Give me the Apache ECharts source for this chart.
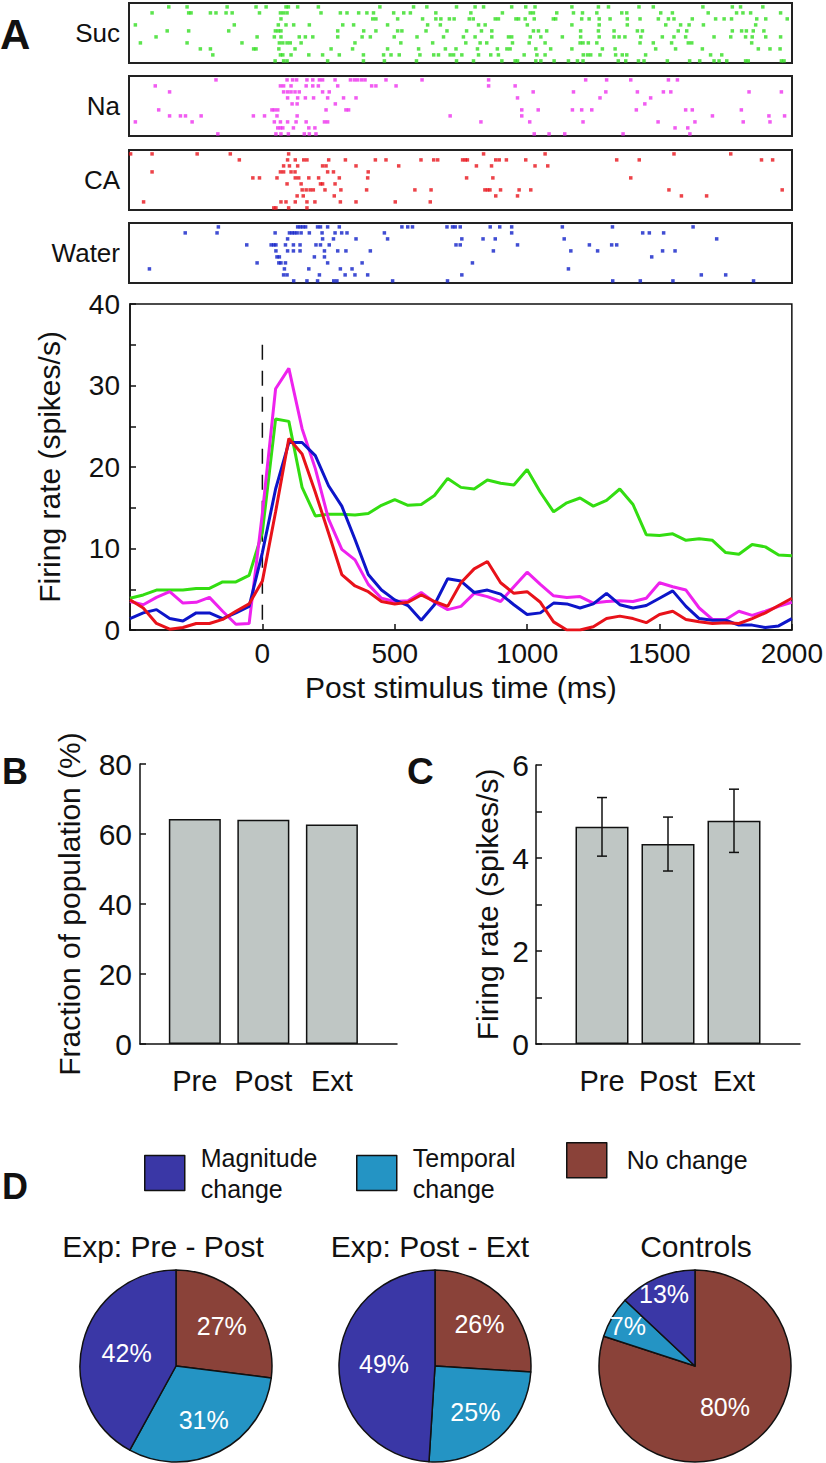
<!DOCTYPE html>
<html>
<head>
<meta charset="utf-8">
<script src="https://cdn.jsdelivr.net/npm/echarts@6/dist/echarts.min.js"></script>
<style>
  html, body { margin: 0; padding: 0; background: #fff; }
  #chart { width: 826px; height: 1463px; }
</style>
</head>
<body>
<div id="chart"></div>
<script>
// ---- panel A: spike rasters (spike times in ms, one list per trial) ----
const rasterNames = ['Suc', 'Na', 'CA', 'Water'];
const rasterColors = ['#33dd22', '#ee33ee', '#e8141c', '#1020c8'];

const sucSpikes = [
  [-350,-281,-130,-21,17,92,101,136,214,446,573,623,735,805,837,943,996,1031,1170,1270,1308,1423,1477,1664,1775,1806,1890],
  [-413,-275,-266,-193,-172,-134,-111,-8,71,83,96,224,297,322,366,397,422,498,536,561,657,789,908,1013,1025,1113,1176,1210,1264,1358,1377,1505,1549,1684,1791,1815,1844,1957],
  [73,419,431,513,607,657,676,708,726,783,798,881,893,959,969,994,1028,1100,1109,1207,1235,1273,1314,1379,1427,1496,1534,1555,1624,1712,1744,1772,1867,1901,1982],
  [-476,-103,63,92,121,180,306,347,475,626,674,818,843,1002,1170,1273,1379,1524,1580,1612,1666,1863],
  [-356,-275,-124,52,63,73,287,385,431,513,529,620,699,773,829,868,1025,1044,1075,1203,1270,1329,1417,1436,1571,1603,1775,1810,1828,1854,1894],
  [-398,-17,48,73,142,165,193,287,379,410,500,586,686,761,805,868,931,943,1013,1053,1134,1203,1273,1329,1348,1370,1430,1511,1555,1599,1706,1769,1825,1850,1901,1957],
  [-457,-281,-74,67,80,96,108,149,352,525,645,770,824,849,946,1009,1069,1201,1212,1232,1264,1427,1477,1546,1609,1622,1848],
  [-231,-193,-30,-21,65,126,262,343,475,592,693,733,814,889,925,937,1034,1090,1170,1285,1333,1486,1561,1662,1873,1917,1955],
  [-184,71,80,111,178,230,293,384,460,488,519,597,649,667,711,724,755,818,864,893,990,1038,1069,1213,1229,1241,1276,1335,1360,1377,1448,1693,1735],
  [51,83,96,249,384,463,584,735,799,906,956,965,1034,1053,1103,1157,1191,1212,1345,1373,1421,1442,1530,1614,1652,1706,1725,1754,1825,1835,1960,1970]
];
const naSpikes = [
  [-172,96,117,132,171,193,218,230,277,335,350,362,377,390,469,605,856,1222,1301,1392,1534,1568],
  [-401,71,83,111,168,193,214,287,415,431,507,856,956],
  [-347,83,98,111,126,142,230,255,1024,1176,1298,1417,1515,1543,1838,1960],
  [98,136,165,196,249,309,356,965,1276,1467],
  [115,134,278,1445],
  [-388,39,48,61,243,318,328,981,1043,1172,1207,1245,1413,1599,1624,1809],
  [-347,-306,-287,-228,-31,11,58,134,711,981,1700,1913,1972],
  [-476,-262,48,71,98,130,168,237,249,827,1011,1212,1495,1634,1816,1917],
  [61,71,80,120,178,201,1559,1607],
  [-165,54,73,101,161,180,205,1028,1084,1143,1363,1615]
];
const caSpikes = [
  [-494,-413,-243,-118,102,837,1069,1555,1769],
  [-84,98,127,159,171,253,316,429,469,601,649,664,758,768,776,883,896,923,996,1339,1424,1885,1927],
  [83,105,136,230,243,356,517,810,867,1031,1079],
  [-413,71,83,111,126,249,271,402],
  [-33,-8,58,127,140,178,215,293,400,773,872,1392],
  [96,149,222,230,277],
  [153,168,183,195,239,299,396,578,639,842,852,861,901,971,1015,1536,1963],
  [134,157,274,883,965,1583,1678],
  [-445,73,92,127,171,201,297,356,504,636],
  [46,54,102,171]
];
const waterSpikes = [
  [-163,136,146,156,166,211,222,249,293,529,551,569,699,720,730,749,862,898,943,1134,1323,1627],
  [-288,-168,51,105,115,124,134,149,180,228,277,302,322,463,943,1437,1462,1516],
  [98,230,271,356,475,755,835,881,1141,1716],
  [-56,36,46,54,90,120,145,205,222,255,733,749,965,1236,1320,1339],
  [54,98,120,145,237,287,318,410,874,1166,1267,1512,1559],
  [58,67,199,237,1471],
  [-17,65,73,90,249,379,795],
  [-423,86,178,297,341,1157],
  [83,96,218,315,352,400,755,1658,1750],
  [121,171,211,272,284,494,701,1324,1428,1551,1855]
];
const rasterSpikes = [sucSpikes, naSpikes, caSpikes, waterSpikes];

// ---- panel A: PSTH ----
const timeBins = [-500,-450,-400,-350,-300,-250,-200,-150,-100,-50,0,50,100,150,200,250,300,350,400,450,500,550,600,650,700,
  750,800,850,900,950,1000,1050,1100,1150,1200,1250,1300,1350,1400,1450,1500,1550,1600,1650,1700,1750,1800,1850,1900,1950,2000];
const sucRate = [3.9,4.3,4.9,4.9,4.9,5.1,5.1,5.9,5.9,6.7,12,25.9,25.6,17.5,14.0,14.2,14.2,14.1,14.3,15.3,16.0,15.3,15.4,16.5,18.6,
  17.5,17.3,18.4,18.0,17.8,19.7,16.9,14.5,15.6,16.2,15.2,15.9,17.3,15.4,11.7,11.6,11.8,11.0,11.2,11.0,9.5,9.3,10.5,10.2,9.2,9.1];
const naRate = [3.5,3.1,4.0,4.7,3.3,3.4,4.0,2.3,0.7,0.8,14.3,29.6,32.1,24.7,19.8,13.6,9.9,8.6,5.6,3.9,3.5,3.6,4.6,3.4,2.5,
  2.9,4.5,4.1,3.5,5.3,7.1,5.6,4.2,4.0,4.1,3.3,3.5,3.6,3.5,3.9,5.8,5.3,4.9,2.7,1.3,1.3,2.3,1.8,2.3,2.9,3.4];
const waterRate = [1.4,2.1,2.5,1.4,1.1,2.1,2.1,1.4,2.1,2.9,9.5,17.3,23.0,23.0,21.4,17.7,15.2,11.1,6.8,4.9,3.7,3.0,1.2,3.1,6.3,
  6.0,4.6,4.9,4.4,3.1,1.9,2.1,3.3,3.2,2.7,3.2,4.5,3.1,2.7,3.0,3.9,4.8,2.9,1.4,1.2,1.2,0.6,0.6,0.3,0.5,1.4];
const caRate = [3.7,2.7,0.8,0.1,0.3,0.8,0.8,1.3,2.3,3.2,6.0,14.5,23.5,21.6,16.9,11.9,6.8,5.4,4.7,3.5,3.2,3.4,4.3,3.5,2.9,
  5.8,7.5,8.4,5.8,4.5,4.7,3.4,1.0,0,0,0.4,1.4,1.7,1.4,0.9,1.9,2.3,1.3,1.0,0.8,0.9,0.8,1.4,2.1,3.0,3.9];
// stimulus onset marker: time 0, drawn from 35 spikes/s down to 0
const onsetTime = 0;
const onsetTop = 35;

// ---- panels B and C ----
const phases = ['Pre', 'Post', 'Ext'];
const fractionPct = [64.3, 64.1, 62.7];
const meanRate = [4.67, 4.30, 4.80];
const semRate = [0.63, 0.58, 0.68];

// ---- panel D ----
const pieTitles = ['Exp: Pre - Post', 'Exp: Post - Ext', 'Controls'];
const changeTypes = ['No change', 'Temporal change', 'Magnitude change'];
const pieValues = [
  [27, 31, 42],
  [26, 25, 49],
  [80, 7, 13]
];
const changeColors = { 'No change': '#8a4239', 'Temporal change': '#2494c4', 'Magnitude change': '#3a37a6' };

const FONT = '"Liberation Sans", Arial, Helvetica, sans-serif';
const INK = '#111';

const chart = echarts.init(document.getElementById('chart'), null, { renderer: 'svg' });

const grids = [], xAxes = [], yAxes = [], series = [];

// rasters
const rasterTops = [3, 76, 150, 223];
rasterTops.forEach((top, i) => {
  grids.push({ left: 129, top: top, width: 663, height: 60, show: true, borderColor: '#222', borderWidth: 2 });
  xAxes.push({ gridIndex: i, type: 'value', min: -500, max: 2000, show: false });
  yAxes.push({
    gridIndex: i, type: 'value', min: 0.35, max: 10.35, inverse: true,
    axisLine: { show: false, onZero: false }, axisTick: { show: false }, axisLabel: { show: false }, splitLine: { show: false },
    name: rasterNames[i], nameLocation: 'middle', nameRotate: 0, nameGap: 9,
    nameTextStyle: { fontSize: 26, color: INK, align: 'right', verticalAlign: 'middle' }
  });
  series.push({
    type: 'scatter', xAxisIndex: i, yAxisIndex: i, symbol: 'rect', symbolSize: [3.5, 3.5],
    itemStyle: { color: rasterColors[i] }, silent: true,
    data: rasterSpikes[i].flatMap((trial, r) => trial.map(t => [t, r + 1]))
  });
});

// PSTH
grids.push({ left: 130, top: 304, width: 663, height: 326, show: true, borderColor: INK, borderWidth: 1.5 });
xAxes.push({
  gridIndex: 4, type: 'value', min: -500, max: 2000, interval: 500,
  axisLine: { onZero: false, lineStyle: { color: INK, width: 1.5 } },
  axisTick: { inside: true, length: 6, lineStyle: { color: INK, width: 1.5 } },
  axisLabel: { fontSize: 28, color: INK, margin: 9, formatter: v => (v === -500 ? '' : String(v)) },
  splitLine: { show: false },
  name: 'Post stimulus time (ms)', nameLocation: 'middle', nameGap: 42,
  nameTextStyle: { fontSize: 30, color: INK }
});
yAxes.push({
  gridIndex: 4, type: 'value', min: 0, max: 40, interval: 5,
  axisLine: { onZero: false, lineStyle: { color: INK, width: 1.5 } },
  axisTick: { inside: true, length: 6, lineStyle: { color: INK, width: 1.5 } },
  axisLabel: { fontSize: 28, color: INK, margin: 10, formatter: v => (v % 10 === 0 ? String(v) : '') },
  splitLine: { show: false },
  name: 'Firing rate (spikes/s)', nameLocation: 'middle', nameGap: 66,
  nameTextStyle: { fontSize: 30, color: INK }
});
series.push({
  type: 'line', xAxisIndex: 4, yAxisIndex: 4, symbol: 'none', silent: true, z: 1,
  lineStyle: { width: 1.5, color: INK, type: [15, 11] },
  data: [[onsetTime, onsetTop], [onsetTime, 0]]
});
const psth = [
  ['Suc', sucRate, '#33dd11'],
  ['Na', naRate, '#ee22ee'],
  ['Water', waterRate, '#0d15c9'],
  ['CA', caRate, '#e8121a']
];
psth.forEach(([name, vals, color]) => {
  series.push({
    type: 'line', name: name, xAxisIndex: 4, yAxisIndex: 4, symbol: 'none', silent: true, z: 2,
    lineStyle: { width: 3, color: color }, itemStyle: { color: color },
    data: timeBins.map((t, j) => [t, vals[j]])
  });
});

// panel B
grids.push({ left: 140, top: 764, width: 257, height: 280 });
xAxes.push({
  gridIndex: 5, type: 'value', min: 0.2, max: 3.95,
  axisLine: { onZero: false, lineStyle: { color: INK, width: 1.5 } }, axisTick: { show: false }, splitLine: { show: false },
  axisLabel: { customValues: [1, 2, 3], formatter: v => phases[Math.round(v) - 1], fontSize: 29, color: INK, margin: 22 }
});
yAxes.push({
  gridIndex: 5, type: 'value', min: 0, max: 80, interval: 20,
  axisLine: { onZero: false, lineStyle: { color: INK, width: 1.5 } },
  axisTick: { inside: true, length: 6, lineStyle: { color: INK, width: 1.5 } },
  axisLabel: { fontSize: 30, color: INK, margin: 8 }, splitLine: { show: false },
  name: 'Fraction of population (%)', nameLocation: 'middle', nameGap: 56,
  nameTextStyle: { fontSize: 30, color: INK }
});
series.push({
  type: 'bar', xAxisIndex: 5, yAxisIndex: 5, barWidth: 52, silent: true,
  itemStyle: { color: '#bfc6c4', borderColor: INK, borderWidth: 1.5 },
  data: fractionPct.map((v, i) => [i + 1, v])
});

// panel C
grids.push({ left: 536, top: 765, width: 264, height: 279 });
xAxes.push({
  gridIndex: 6, type: 'value', min: 0, max: 4,
  axisLine: { onZero: false, lineStyle: { color: INK, width: 1.5 } }, axisTick: { show: false }, splitLine: { show: false },
  axisLabel: { customValues: [1, 2, 3], formatter: v => phases[Math.round(v) - 1], fontSize: 29, color: INK, margin: 22 }
});
yAxes.push({
  gridIndex: 6, type: 'value', min: 0, max: 6, interval: 1,
  axisLine: { onZero: false, lineStyle: { color: INK, width: 1.5 } },
  axisTick: { inside: true, length: 6, lineStyle: { color: INK, width: 1.5 } },
  axisLabel: { fontSize: 30, color: INK, margin: 7, formatter: v => (v % 2 === 0 ? String(v) : '') },
  splitLine: { show: false },
  name: 'Firing rate (spikes/s)', nameLocation: 'middle', nameGap: 34,
  nameTextStyle: { fontSize: 30, color: INK }
});
series.push({
  type: 'bar', xAxisIndex: 6, yAxisIndex: 6, barWidth: 53, silent: true,
  itemStyle: { color: '#bfc6c4', borderColor: INK, borderWidth: 1.5 },
  data: meanRate.map((v, i) => [i + 1, v])
});
series.push({
  type: 'custom', xAxisIndex: 6, yAxisIndex: 6, z: 5, silent: true,
  encode: { x: 0, y: [1, 2] },
  data: meanRate.map((v, i) => [i + 1, v - semRate[i], v + semRate[i]]),
  renderItem: (params, api) => {
    const x = api.value(0);
    const lo = api.coord([x, api.value(1)]);
    const hi = api.coord([x, api.value(2)]);
    const w = 5;
    const st = { stroke: INK, lineWidth: 1.5 };
    return {
      type: 'group', children: [
        { type: 'line', shape: { x1: lo[0], y1: lo[1], x2: hi[0], y2: hi[1] }, style: st },
        { type: 'line', shape: { x1: lo[0] - w, y1: lo[1], x2: lo[0] + w, y2: lo[1] }, style: st },
        { type: 'line', shape: { x1: hi[0] - w, y1: hi[1], x2: hi[0] + w, y2: hi[1] }, style: st }
      ]
    };
  }
});

// panel D pies
const pieCenters = [176, 435, 695];
const labelRing = [20, 20, 54];
pieValues.forEach((vals, p) => {
  const center = [pieCenters[p], 1366];
  series.push({
    type: 'pie', center: center, radius: [0, 96], startAngle: 90, clockwise: true,
    animation: false, silent: true, emphasis: { disabled: true },
    itemStyle: { borderColor: INK, borderWidth: 1.5 },
    label: { position: 'inside', color: '#fff', fontSize: 25, formatter: '{c}%' },
    labelLine: { show: false },
    data: vals.map((v, i) => ({
      name: changeTypes[i], value: v,
      itemStyle: { color: changeColors[changeTypes[i]] },
      label: { show: v >= 40 }
    }))
  });
  series.push({
    type: 'pie', center: center, radius: [labelRing[p], 96], startAngle: 90, clockwise: true,
    animation: false, silent: true, emphasis: { disabled: true }, z: 3,
    itemStyle: { color: 'rgba(0,0,0,0)', borderWidth: 0 },
    label: { position: 'inside', color: '#fff', fontSize: 25, formatter: '{c}%' },
    labelLine: { show: false },
    data: vals.map((v, i) => ({ name: changeTypes[i], value: v, label: { show: v < 40 } }))
  });
});

const legendLabels = { 'Magnitude change': 'Magnitude\nchange', 'Temporal change': 'Temporal\nchange', 'No change': 'No change' };
const legendSpots = [['Magnitude change', 144, 11], ['Temporal change', 356, 11], ['No change', 566, 15]];
const legends = legendSpots.map(([name, left, pad]) => ({
  data: [name], left: left, top: 1142, padding: 0, icon: 'rect', itemWidth: 40, itemHeight: 35,
  selectedMode: false, itemStyle: { borderColor: INK, borderWidth: 1.5 },
  formatter: n => legendLabels[n],
  textStyle: { fontSize: 25, lineHeight: 31, color: INK, padding: [0, 0, 0, pad] }
}));

const letter = (t, x, y, size) => ({
  type: 'text', x: x, y: y, silent: true,
  style: { text: t, fill: INK, font: 'bold ' + size + 'px ' + FONT, align: 'left', verticalAlign: 'middle' }
});
const graphics = [
  letter('A', 0, 34, 42), letter('B', 2, 771, 36), letter('C', 407, 771, 37), letter('D', 2, 1186, 36)
];
const titleX = [163, 430, 696];
pieTitles.forEach((t, i) => graphics.push({
  type: 'text', x: titleX[i], y: 1246, silent: true,
  style: { text: t, fill: INK, font: '30px ' + FONT, align: 'center', verticalAlign: 'middle' }
}));

chart.setOption({
  animation: false,
  backgroundColor: '#fff',
  textStyle: { fontFamily: FONT },
  grid: grids,
  xAxis: xAxes,
  yAxis: yAxes,
  legend: legends,
  graphic: graphics,
  series: series
});
</script>
</body>
</html>
